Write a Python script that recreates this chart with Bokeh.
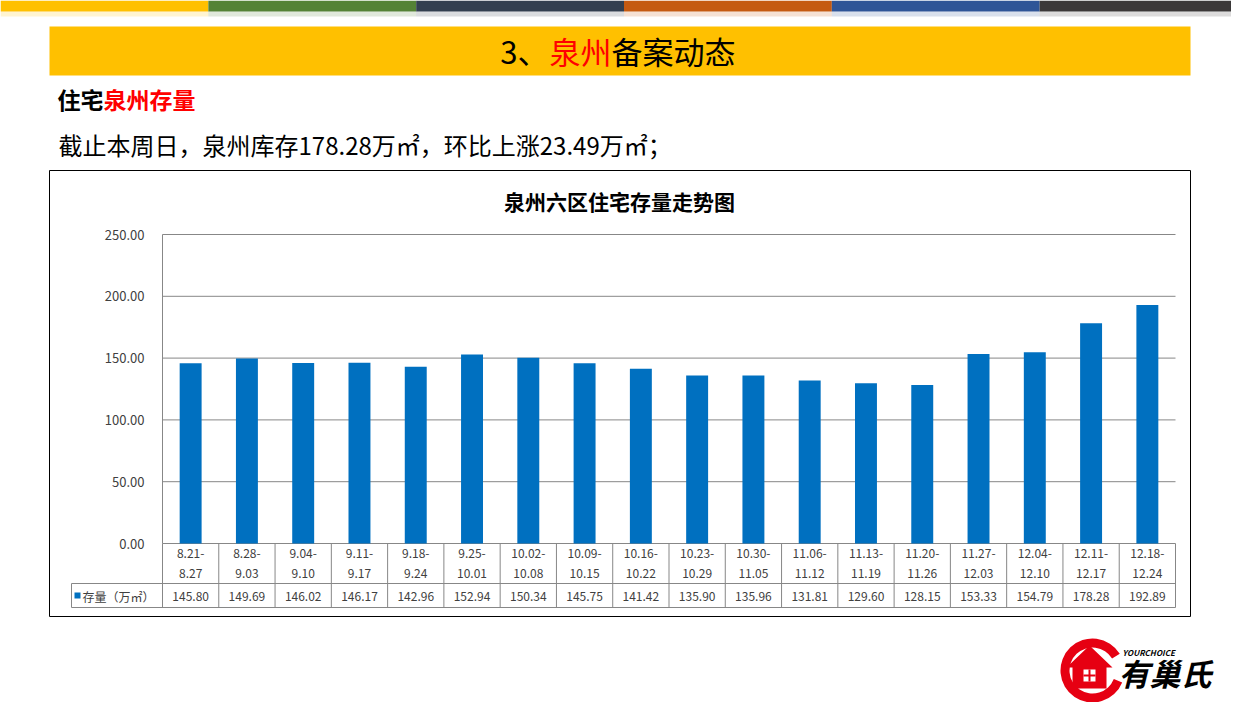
import numpy as np
from bokeh.plotting import figure
from bokeh.models import Range1d
from bokeh.core.properties import value
from bokeh.embed import file_html
from bokeh.resources import INLINE

# ---------------- data ----------------
week_start = ["8.21-", "8.28-", "9.04-", "9.11-", "9.18-", "9.25-", "10.02-", "10.09-", "10.16-",
              "10.23-", "10.30-", "11.06-", "11.13-", "11.20-", "11.27-", "12.04-", "12.11-", "12.18-"]
week_end = ["8.27", "9.03", "9.10", "9.17", "9.24", "10.01", "10.08", "10.15", "10.22",
            "10.29", "11.05", "11.12", "11.19", "11.26", "12.03", "12.10", "12.17", "12.24"]
stock = [145.80, 149.69, 146.02, 146.17, 142.96, 152.94, 150.34, 145.75, 141.42,
         135.90, 135.96, 131.81, 129.60, 128.15, 153.33, 154.79, 178.28, 192.89]
y_ticks = [0, 50, 100, 150, 200, 250]
y_tick_labels = ["0.00", "50.00", "100.00", "150.00", "200.00", "250.00"]
series_name = "存量（万㎡）"
chart_title = "泉州六区住宅存量走势图"
header_colors = ["#FFC000", "#548235", "#333F50", "#C55A11", "#2F5597", "#3B3838"]

# ---------------- layout (slide pixel space) ----------------
SW = 1247                   # slide width for the header strip
W, H = 1231, 702            # figure size (== pixel space of the drawing)
PLOT_L, PLOT_R = 162, 1175
PLOT_B, PLOT_T = 543, 234
Y_MAX = 250
n = len(stock)
cw = (PLOT_R - PLOT_L) / n
k = (PLOT_B - PLOT_T) / Y_MAX
FONT = value("Noto Sans CJK SC")
TXT = "#404040"
GRID = "#878787"

p = figure(width=W, height=H, x_range=Range1d(0, W), y_range=Range1d(H, 0),
           output_backend="svg", toolbar_location=None,
           x_axis_type=None, y_axis_type=None, min_border=0,
           outline_line_color=None, background_fill_color="white")
p.extra_x_ranges = {"cat": Range1d((0 - PLOT_L) / cw, (W - PLOT_L) / cw)}
p.extra_y_ranges = {"val": Range1d((PLOT_B - H) / k, PLOT_B / k)}


def txt(x, y, t, size, color="black", align="left", style="normal", **kw):
    p.text(x=x, y=y, text=t, text_font=FONT, text_font_size=size, text_color=color,
           text_align=align, text_baseline="middle", text_font_style=style, **kw)


# header strip
seg = SW / len(header_colors)
for i, c in enumerate(header_colors):
    p.quad(left=i * seg, right=(i + 1) * seg, top=0, bottom=11, fill_color=c, line_color=None)
    p.quad(left=i * seg, right=(i + 1) * seg, top=11, bottom=16, fill_color=c, fill_alpha=0.18, line_color=None)

# title bar
p.quad(left=49, right=1190, top=26, bottom=75, fill_color="#FFC000", line_color=None)
txt([548], [50], ["3、"], "31px", align="right")
txt([549], [50], ["泉州"], "31px", color="#FF0000", align="left")
txt([611], [50], ["备案动态"], "31px", align="left")

# section heading
txt([103], [98], ["住宅"], "23px", align="right", style="bold")
txt([103], [98], ["泉州存量"], "23px", color="#FF0000", align="left", style="bold")

# summary sentence
latest = stock[-2]
diff = stock[-2] - stock[-3]
txt([58], [144], [f"截止本周日，泉州库存{latest:.2f}万㎡，环比上涨{diff:.2f}万㎡；"], "24px")

# chart box
p.quad(left=49, right=1190, top=170, bottom=616, fill_color="white", line_color="black", line_width=1)
txt([619], [200], [chart_title], "21px", align="center", style="bold")

# grid lines and axis line
p.segment(x0=0, x1=n, y0=y_ticks, y1=y_ticks, x_range_name="cat", y_range_name="val",
          line_color=GRID, line_width=1)
p.segment(x0=[0], x1=[0], y0=[0], y1=[Y_MAX], x_range_name="cat", y_range_name="val",
          line_color=GRID, line_width=1)

# y tick labels
p.text(x=144, y=y_ticks, text=y_tick_labels, y_range_name="val", text_font=FONT,
       text_font_size="13px", text_color=TXT, text_align="right", text_baseline="middle")

# bars
idx = np.arange(n)
p.vbar(x=idx + 0.5, width=0.39, top=stock, bottom=0, x_range_name="cat", y_range_name="val",
       fill_color="#0070C0", line_color=None)

# data table
TB_MID, TB_BOT = 583, 607
p.segment(x0=[71, 71], x1=[PLOT_R, PLOT_R], y0=[TB_MID, TB_BOT], y1=[TB_MID, TB_BOT],
          line_color=GRID, line_width=1)
p.segment(x0=[71], x1=[71], y0=[TB_MID], y1=[TB_BOT], line_color=GRID, line_width=1)
p.segment(x0=np.arange(n + 1), x1=np.arange(n + 1), y0=PLOT_B, y1=TB_BOT, x_range_name="cat",
          line_color=GRID, line_width=1)
p.text(x=idx + 0.5, y=553, text=week_start, x_range_name="cat", text_font=FONT,
       text_font_size="12px", text_color=TXT, text_align="center", text_baseline="middle")
p.text(x=idx + 0.5, y=573, text=week_end, x_range_name="cat", text_font=FONT,
       text_font_size="12px", text_color=TXT, text_align="center", text_baseline="middle")
p.text(x=idx + 0.5, y=596, text=[f"{v:.2f}" for v in stock], x_range_name="cat", text_font=FONT,
       text_font_size="12px", text_color=TXT, text_align="center", text_baseline="middle")
p.quad(left=74, right=80, top=592, bottom=598, fill_color="#0070C0", line_color=None)
txt([82], [596], [series_name], "12px", color=TXT)

# logo (kept inside the canvas)
p.annular_wedge(x=1092, y=670, inner_radius=23, outer_radius=32, start_angle=0.55, end_angle=5.9,
                fill_color="#E60012", line_color=None)
p.patch(x=[1066, 1089, 1112, 1106, 1106, 1072, 1072],
        y=[667, 645, 667, 667, 688, 688, 667], fill_color="#E60012", line_color=None)
p.quad(left=1083, right=1095, top=669, bottom=681, fill_color="white", line_color=None)
p.segment(x0=[1089, 1083], x1=[1089, 1095], y0=[669, 675], y1=[681, 675], line_color="#E60012", line_width=2)
txt([1118], [672], ["有巢氏"], "31px", style="bold italic")
txt([1122], [652], ["YOURCHOICE"], "8px", style="bold italic")

open("out.html", "w").write(file_html(p, INLINE))
